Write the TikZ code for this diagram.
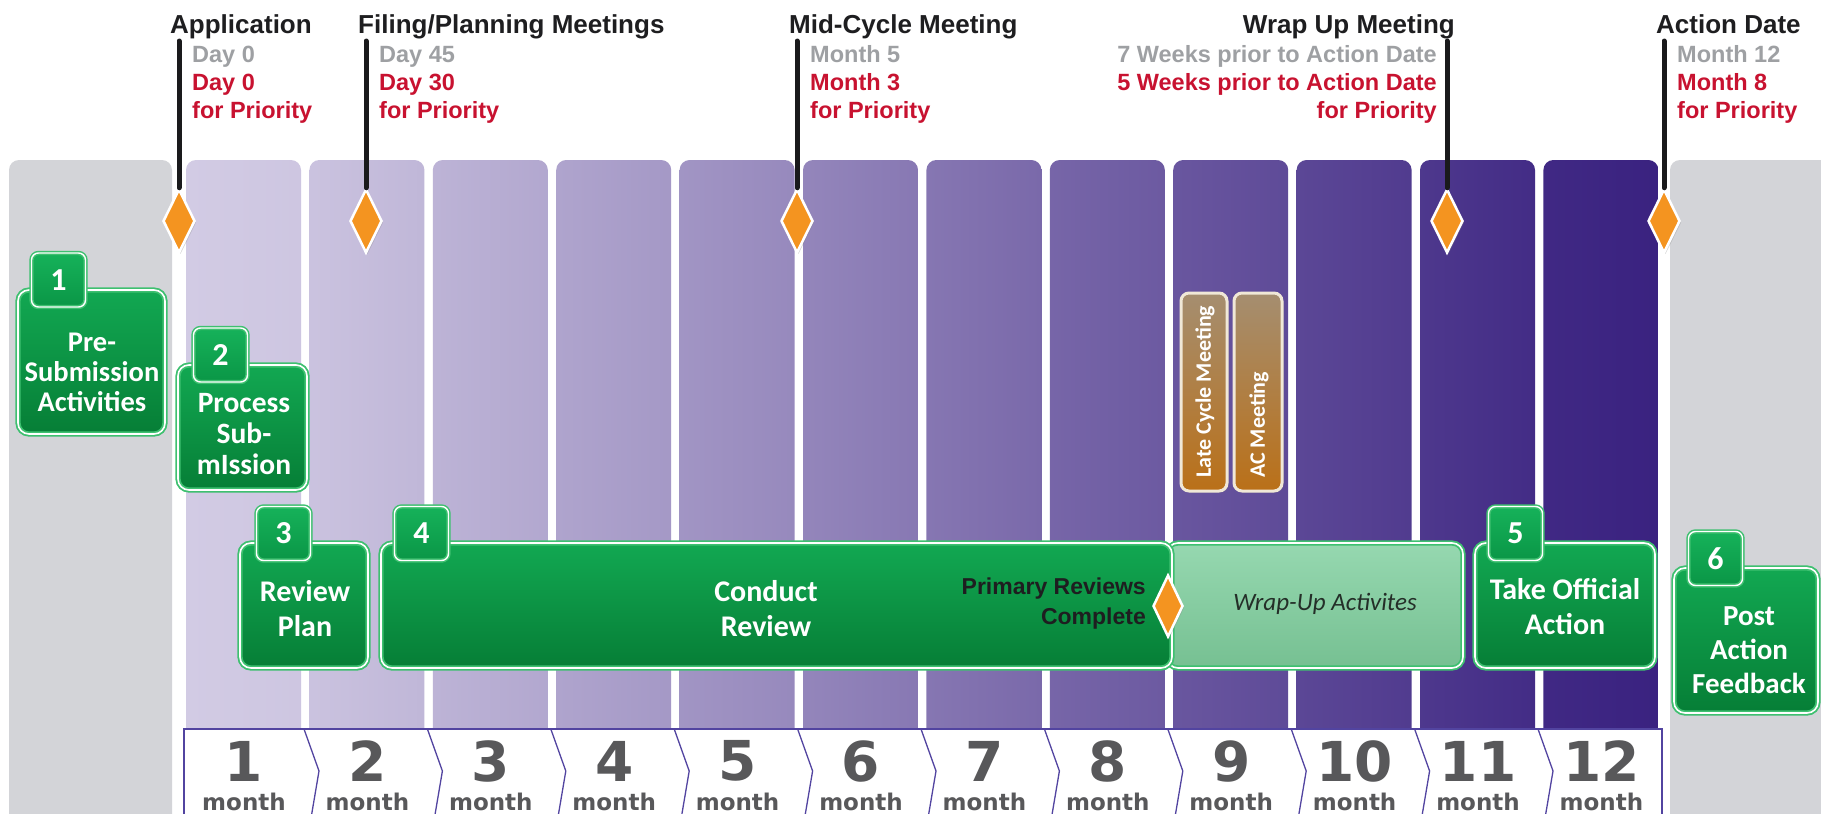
\documentclass[tikz,border=0pt]{standalone}
\usepackage{fontspec}
\setmainfont{Liberation Sans}
\newfontfamily\boxfont{Carlito}
\newfontfamily\numfont{DejaVu Sans}
\usetikzlibrary{shapes.geometric,shadows}

\definecolor{greycol}{RGB}{211,212,216}
\definecolor{lav}{RGB}{210,203,228}
\definecolor{deepviolet}{RGB}{58,34,128}
\definecolor{gtop}{RGB}{18,168,82}
\definecolor{gbot}{RGB}{6,126,54}
\definecolor{gedge}{RGB}{62,192,112}
\definecolor{ttop}{RGB}{22,178,90}
\definecolor{tbot}{RGB}{10,150,70}
\definecolor{wtop}{RGB}{150,216,176}
\definecolor{wbot}{RGB}{118,192,146}
\definecolor{orng}{RGB}{244,148,32}
\definecolor{redtxt}{RGB}{200,18,48}
\definecolor{greytxt}{RGB}{158,160,163}
\definecolor{titletxt}{RGB}{30,30,32}
\definecolor{poleblack}{RGB}{26,26,28}
\definecolor{digitgrey}{RGB}{88,88,90}
\definecolor{stripline}{RGB}{82,68,160}
\definecolor{btop}{RGB}{165,142,112}
\definecolor{bbot}{RGB}{186,112,24}
\definecolor{bedge}{RGB}{240,232,215}
\definecolor{wraptxt}{RGB}{36,46,40}

\tikzset{
  milestone/.style={diamond, fill=orng, draw=white, line width=2.5pt,
    minimum width=32pt, minimum height=64pt, inner sep=0pt,
    drop shadow={opacity=.3, shadow xshift=1.5pt, shadow yshift=-1.5pt}},
  pole/.style={line width=5pt, draw=poleblack, line cap=round},
  headtitle/.style={font=\bfseries\fontsize{26}{30}\selectfont, text=titletxt, inner sep=0pt},
  stdline/.style={font=\bfseries\fontsize{23.5}{28}\selectfont, text=greytxt, inner sep=0pt},
  prioline/.style={font=\bfseries\fontsize{23.5}{28}\selectfont, text=redtxt, inner sep=0pt},
  stepbox/.style={draw=gedge, double=white, double distance=1.6pt, line width=1.8pt,
    rounded corners=11pt, top color=gtop, bottom color=gbot, inner sep=0pt,
    drop shadow={opacity=.25, shadow xshift=1pt, shadow yshift=-2pt}},
  wrapbox/.style={stepbox, top color=wtop, bottom color=wbot},
  numtab/.style={draw=gedge, double=white, double distance=1.4pt, line width=1.5pt,
    rounded corners=7pt, top color=ttop, bottom color=tbot,
    minimum width=54pt, minimum height=54pt, inner sep=0pt, text=white,
    font=\boxfont\bfseries\fontsize{32}{32}\selectfont},
  steptext/.style={text=white, align=center, inner sep=0pt,
    font=\boxfont\bfseries\fontsize{30}{35}\selectfont},
  meetbox/.style={rounded corners=8pt, top color=btop, bottom color=bbot, draw=bedge,
    line width=3pt, minimum width=46pt, minimum height=198pt, inner sep=0pt,
    drop shadow={opacity=.35, shadow xshift=1.5pt, shadow yshift=-1.5pt}},
  meettext/.style={rotate=90, anchor=west, text=white, inner sep=0pt,
    font=\boxfont\bfseries\fontsize{22}{22}\selectfont},
  digitlbl/.style={text=digitgrey, inner sep=0pt, font=\numfont\bfseries\fontsize{55}{55}\selectfont},
  unitlbl/.style={text=digitgrey, inner sep=0pt, font=\numfont\bfseries\fontsize{23}{23}\selectfont},
  sepline/.style={draw=stripline, line width=1.3pt},
}

\begin{document}
\begin{tikzpicture}[x=1pt, y=-1pt]
\useasboundingbox (0,0) rectangle (1821,814);
\fill[white] (0,0) rectangle (1821,814);

% grey columns before and after the review clock
\fill[greycol, rounded corners=10pt] (9,160) rectangle (172,840);
\fill[greycol, rounded corners=10pt] (1670,160) rectangle (1850,840);

% twelve month columns, light to dark
\foreach \k in {1,...,12}{
  \pgfmathsetmacro{\L}{186+(\k-1)*123.4}
  \pgfmathsetmacro{\R}{\L+115}
  \pgfmathtruncatemacro{\pl}{max(0,(\k-1.4)*100/11)}
  \pgfmathtruncatemacro{\pr}{min(100,(\k-0.6)*100/11)}
  \colorlet{cl}{deepviolet!\pl!lav}
  \colorlet{cr}{deepviolet!\pr!lav}
  \shade[left color=cl, right color=cr, rounded corners=10pt] (\L,160) rectangle (\R,790);
}

% month strip with chevrons
\fill[white] (184,729) rectangle (1662,840);
\draw[stripline, line width=1.6pt] (184,840) -- (184,729) -- (1662,729) -- (1662,840);
\foreach \k in {1,...,11}{
  \pgfmathsetmacro{\T}{319+(\k-1)*123.4}
  \draw[sepline] (\T-15,729) -- (\T,771) -- (\T-10,830);
}
\foreach \k in {1,...,12}{
  \pgfmathsetmacro{\C}{244+(\k-1)*123.4}
  \node[digitlbl] (m\k) at (\C,761) {\k};
  \node[unitlbl] (u\k) at (\C,802) {month};
}

% milestones
\node[milestone] (d1) at (179,221) {};
\node[milestone] (d2) at (366,221) {};
\node[milestone] (d3) at (797,221) {};
\node[milestone] (d4) at (1447,221) {};
\node[milestone] (d5) at (1664,221) {};
\coordinate (p1) at (179,41);
\coordinate (p2) at (366,41);
\coordinate (p3) at (797,41);
\coordinate (p4) at (1447,41);
\coordinate (p5) at (1664,41);
\foreach \i in {1,...,5}{ \draw[pole] (p\i) -- (d\i.north); }

% milestone headings
\node[headtitle, anchor=base west] (h1) at (170,33) {Application};
\node[stdline, anchor=base west] (h1a) at (192,62) {Day 0};
\node[prioline, anchor=base west] (h1b) at (192,90) {Day 0};
\node[prioline, anchor=base west] (h1c) at (192,118) {for Priority};

\node[headtitle, anchor=base west] (h2) at (358,33) {Filing/Planning Meetings};
\node[stdline, anchor=base west] (h2a) at (379,62) {Day 45};
\node[prioline, anchor=base west] (h2b) at (379,90) {Day 30};
\node[prioline, anchor=base west] (h2c) at (379,118) {for Priority};

\node[headtitle, anchor=base west] (h3) at (789,33) {Mid-Cycle Meeting};
\node[stdline, anchor=base west] (h3a) at (810,62) {Month 5};
\node[prioline, anchor=base west] (h3b) at (810,90) {Month 3};
\node[prioline, anchor=base west] (h3c) at (810,118) {for Priority};

\node[headtitle, anchor=base east] (h4) at (1455,33) {Wrap Up Meeting};
\node[stdline, anchor=base east] (h4a) at (1437,62) {7 Weeks prior to Action Date};
\node[prioline, anchor=base east] (h4b) at (1437,90) {5 Weeks prior to Action Date};
\node[prioline, anchor=base east] (h4c) at (1437,118) {for Priority};

\node[headtitle, anchor=base west] (h5) at (1656,33) {Action Date};
\node[stdline, anchor=base west] (h5a) at (1677,62) {Month 12};
\node[prioline, anchor=base west] (h5b) at (1677,90) {Month 8};
\node[prioline, anchor=base west] (h5c) at (1677,118) {for Priority};

% late-cycle meetings
\node[meetbox] (lcm) at (1204,392) {};
\node[meetbox, minimum width=48pt] (acm) at (1258,392) {};
\node[meettext] (lcmt) at (1205,478) {Late Cycle Meeting};
\node[meettext] (acmt) at (1259,478) {AC Meeting};

% process steps
\node[stepbox, minimum width=147pt, minimum height=144pt] (b1) at (91.5,362) {};
\node[stepbox, minimum width=129pt, minimum height=125pt] (b2) at (242.5,427.5) {};
\node[stepbox, minimum width=128pt, minimum height=125pt] (b3) at (304,605.5) {};
\node[wrapbox, minimum width=296pt, minimum height=125pt] (wu) at (1315,605.5) {};
\node[stepbox, minimum width=791pt, minimum height=125pt] (b4) at (776.5,605.5) {};
\node[stepbox, minimum width=180pt, minimum height=125pt] (b5) at (1565,605.5) {};
\node[stepbox, minimum width=144pt, minimum height=145pt] (b6) at (1746,640.5) {};

\node[numtab] (t1) at (58.5,280) {1};
\node[numtab] (t2) at (220.5,355) {2};
\node[numtab] (t3) at (283.5,533.5) {3};
\node[numtab] (t4) at (421.5,533.5) {4};
\node[numtab] (t5) at (1515.5,533.5) {5};
\node[numtab] (t6) at (1715.5,558.5) {6};

\node[steptext, font=\boxfont\bfseries\fontsize{28.5}{30}\selectfont] (l1) at (92,372) {Pre-\\Submission\\Activities};
\node[steptext, font=\boxfont\bfseries\fontsize{29.5}{31}\selectfont] (l2) at (244,434) {Process\\Sub-\\mIssion};
\node[steptext] (l3) at (305,609) {Review\\Plan};
\node[steptext] (l4) at (766,609) {Conduct\\Review};
\node[steptext] (l5) at (1565,607) {Take Official\\Action};
\node[steptext, font=\boxfont\bfseries\fontsize{29}{34}\selectfont] (l6) at (1749,650) {Post\\Action\\Feedback};
\node[text=wraptxt, inner sep=0pt, font=\boxfont\itshape\fontsize{25}{28}\selectfont] (lw) at (1325,604) {Wrap-Up Activites};

% end of primary review
\node[milestone, minimum width=30pt, minimum height=62pt] (d6) at (1168,606) {};
\node[align=right, anchor=east, inner sep=0pt, text=titletxt,
  font=\bfseries\fontsize{23}{30}\selectfont] (prc) at (1146,604) {Primary Reviews\\Complete};
\end{tikzpicture}
\end{document}
